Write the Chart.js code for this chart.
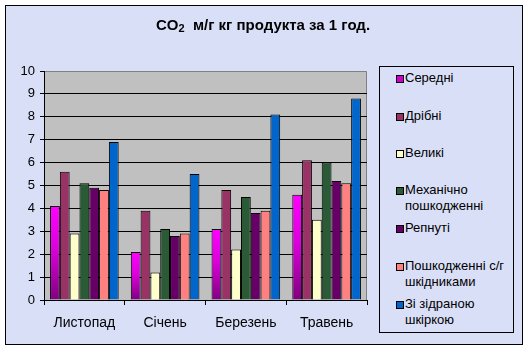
<!DOCTYPE html>
<html>
<head>
<meta charset="utf-8">
<script src="https://cdn.jsdelivr.net/npm/chart.js@4.4.1/dist/chart.umd.min.js"></script>
<style>
  html, body { margin: 0; padding: 0; background: #ffffff; }
  #wrap { position: relative; width: 528px; height: 352px; }
  canvas { position: absolute; left: 0; top: 0; }
  #title { position: absolute; left: 0; width: 526px; top: 16px; text-align: center;
           font: bold 15px "Liberation Sans", Arial, sans-serif; color: #000; }
  #title sub { font-size: 11px; vertical-align: -2px; }
  #legend { position: absolute; left: 379px; top: 66px; width: 135px; height: 267px;
            border: 1px solid #000; box-sizing: border-box; background: #D9DFF7;
            font: 13px "Liberation Sans", Arial, sans-serif; color: #000; }
  .item { position: absolute; left: 16px; line-height: 16px; }
  .sw { position: absolute; left: 0; top: 5px; width: 6px; height: 6px; border: 1px solid #000; }
  .tx { position: absolute; left: 9px; top: 0; white-space: nowrap; }
</style>
</head>
<body>
<div id="wrap">
  <canvas id="c" width="528" height="352"></canvas>
  <div id="title">CO<sub>2</sub>&nbsp; м/г кг продукта за 1 год.</div>
  <div id="legend"></div>
</div>
<script>
const categories = ["Листопад", "Січень", "Березень", "Травень"];
const seriesNames = ["Середні", "Дрібні", "Великі", "Механічно пошкодженні", "Репнуті", "Пошкодженні с/г шкідниками", "Зі зідраною шкіркою"];
const legendLines = [["Середні"], ["Дрібні"], ["Великі"], ["Механічно", "пошкодженні"], ["Репнуті"], ["Пошкодженні с/г", "шкідниками"], ["Зі зідраною", "шкіркою"]];
const seredni = [4.1, 2.1, 3.1, 4.6];
const dribni = [5.6, 3.9, 4.8, 6.1];
const velyki = [2.9, 1.2, 2.2, 3.5];
const mekhanichno = [5.1, 3.1, 4.5, 6.0];
const repnuti = [4.9, 2.8, 3.8, 5.2];
const poshkodzheni = [4.8, 2.9, 3.9, 5.1];
const zidranoyu = [6.9, 5.5, 8.1, 8.8];
const yTicks = [0, 1, 2, 3, 4, 5, 6, 7, 8, 9, 10];

const colors = ["#CC00CC", "#993366", "#FFFFCC", "#2B5A36", "#660066", "#FF8080", "#0066CC"];
const values = [seredni, dribni, velyki, mekhanichno, repnuti, poshkodzheni, zidranoyu];

function magentaFill(ctx) {
  const chart = ctx.chart;
  const y = chart.scales.y;
  if (!y || ctx.parsed === undefined || ctx.parsed === null) return "#CC00CC";
  const top = y.getPixelForValue(ctx.parsed.y);
  const bot = y.getPixelForValue(0);
  if (!isFinite(top) || !isFinite(bot) || top === bot) return "#CC00CC";
  const g = chart.ctx.createLinearGradient(0, top, 0, bot);
  g.addColorStop(0, "#FF00FF");
  g.addColorStop(0.45, "#DD00DD");
  g.addColorStop(1, "#800080");
  return g;
}

const datasets = seriesNames.map((n, i) => ({
  label: n,
  data: values[i],
  backgroundColor: i === 0 ? magentaFill : colors[i],
  borderColor: "#000000",
  borderWidth: 1,
  borderSkipped: "bottom",
  categoryPercentage: 0.85,
  barPercentage: 1.0
}));

const bgPlugin = {
  id: "bg",
  beforeDraw(chart) {
    const c = chart.ctx;
    c.save();
    c.fillStyle = "#ffffff";
    c.fillRect(0, 0, 528, 352);
    c.fillStyle = "#D9DFF7";
    c.fillRect(5, 5, 518, 340);
    c.strokeStyle = "#000000";
    c.lineWidth = 1;
    c.strokeRect(5.5, 5.5, 517, 339);
    const a = chart.chartArea;
    c.fillStyle = "#C0C0C0";
    c.fillRect(a.left, a.top, a.right - a.left, a.bottom - a.top);
    c.strokeStyle = "#808080";
    c.beginPath();
    c.moveTo(a.left, a.top + 0.5);
    c.lineTo(a.right - 0.5, a.top + 0.5);
    c.lineTo(a.right - 0.5, a.bottom);
    c.stroke();
    c.restore();
  }
};

const chart = new Chart(document.getElementById("c"), {
  type: "bar",
  data: { labels: categories, datasets },
  options: {
    responsive: false,
    animation: false,
    devicePixelRatio: 1,
    layout: { padding: { top: 71, right: 161, bottom: 0, left: 0 } },
    plugins: { legend: { display: false }, title: { display: false }, tooltip: { enabled: false } },
    scales: {
      x: {
        offset: true,
        afterFit(s) { s.height = 52; },
        grid: { display: true, offset: true, drawOnChartArea: false, color: "#000000", tickLength: 5, tickColor: "#000000" },
        border: { display: true, color: "#000000", width: 1 },
        ticks: { color: "#000000", font: { family: "'Liberation Sans', Arial, sans-serif", size: 14 }, padding: 10 }
      },
      y: {
        min: 0, max: 10,
        afterFit(s) { s.width = 44; },
        afterBuildTicks(s) { s.ticks = yTicks.map(v => ({ value: v })); },
        grid: {
          color: (ctx) => (ctx.tick && ctx.tick.value === 10) ? "rgba(0,0,0,0)" : "#000000",
          tickColor: "#000000",
          tickLength: 4,
          lineWidth: 1
        },
        border: { display: true, color: "#000000", width: 1 },
        ticks: { color: "#000000", font: { family: "'Liberation Sans', Arial, sans-serif", size: 13 }, padding: 5 }
      }
    }
  },
  plugins: [bgPlugin]
});

// HTML legend built from the chart's datasets
const legendTops = [3, 41, 78, 115, 153, 191, 229];
const legend = document.getElementById("legend");
chart.data.datasets.forEach((ds, i) => {
  const item = document.createElement("div");
  item.className = "item";
  item.style.top = legendTops[i] + "px";
  const sw = document.createElement("div");
  sw.className = "sw";
  sw.style.background = i === 0 ? "#CC00CC" : colors[i];
  const tx = document.createElement("div");
  tx.className = "tx";
  tx.innerHTML = legendLines[i].join("<br>");
  item.appendChild(sw);
  item.appendChild(tx);
  legend.appendChild(item);
});
</script>
</body>
</html>
